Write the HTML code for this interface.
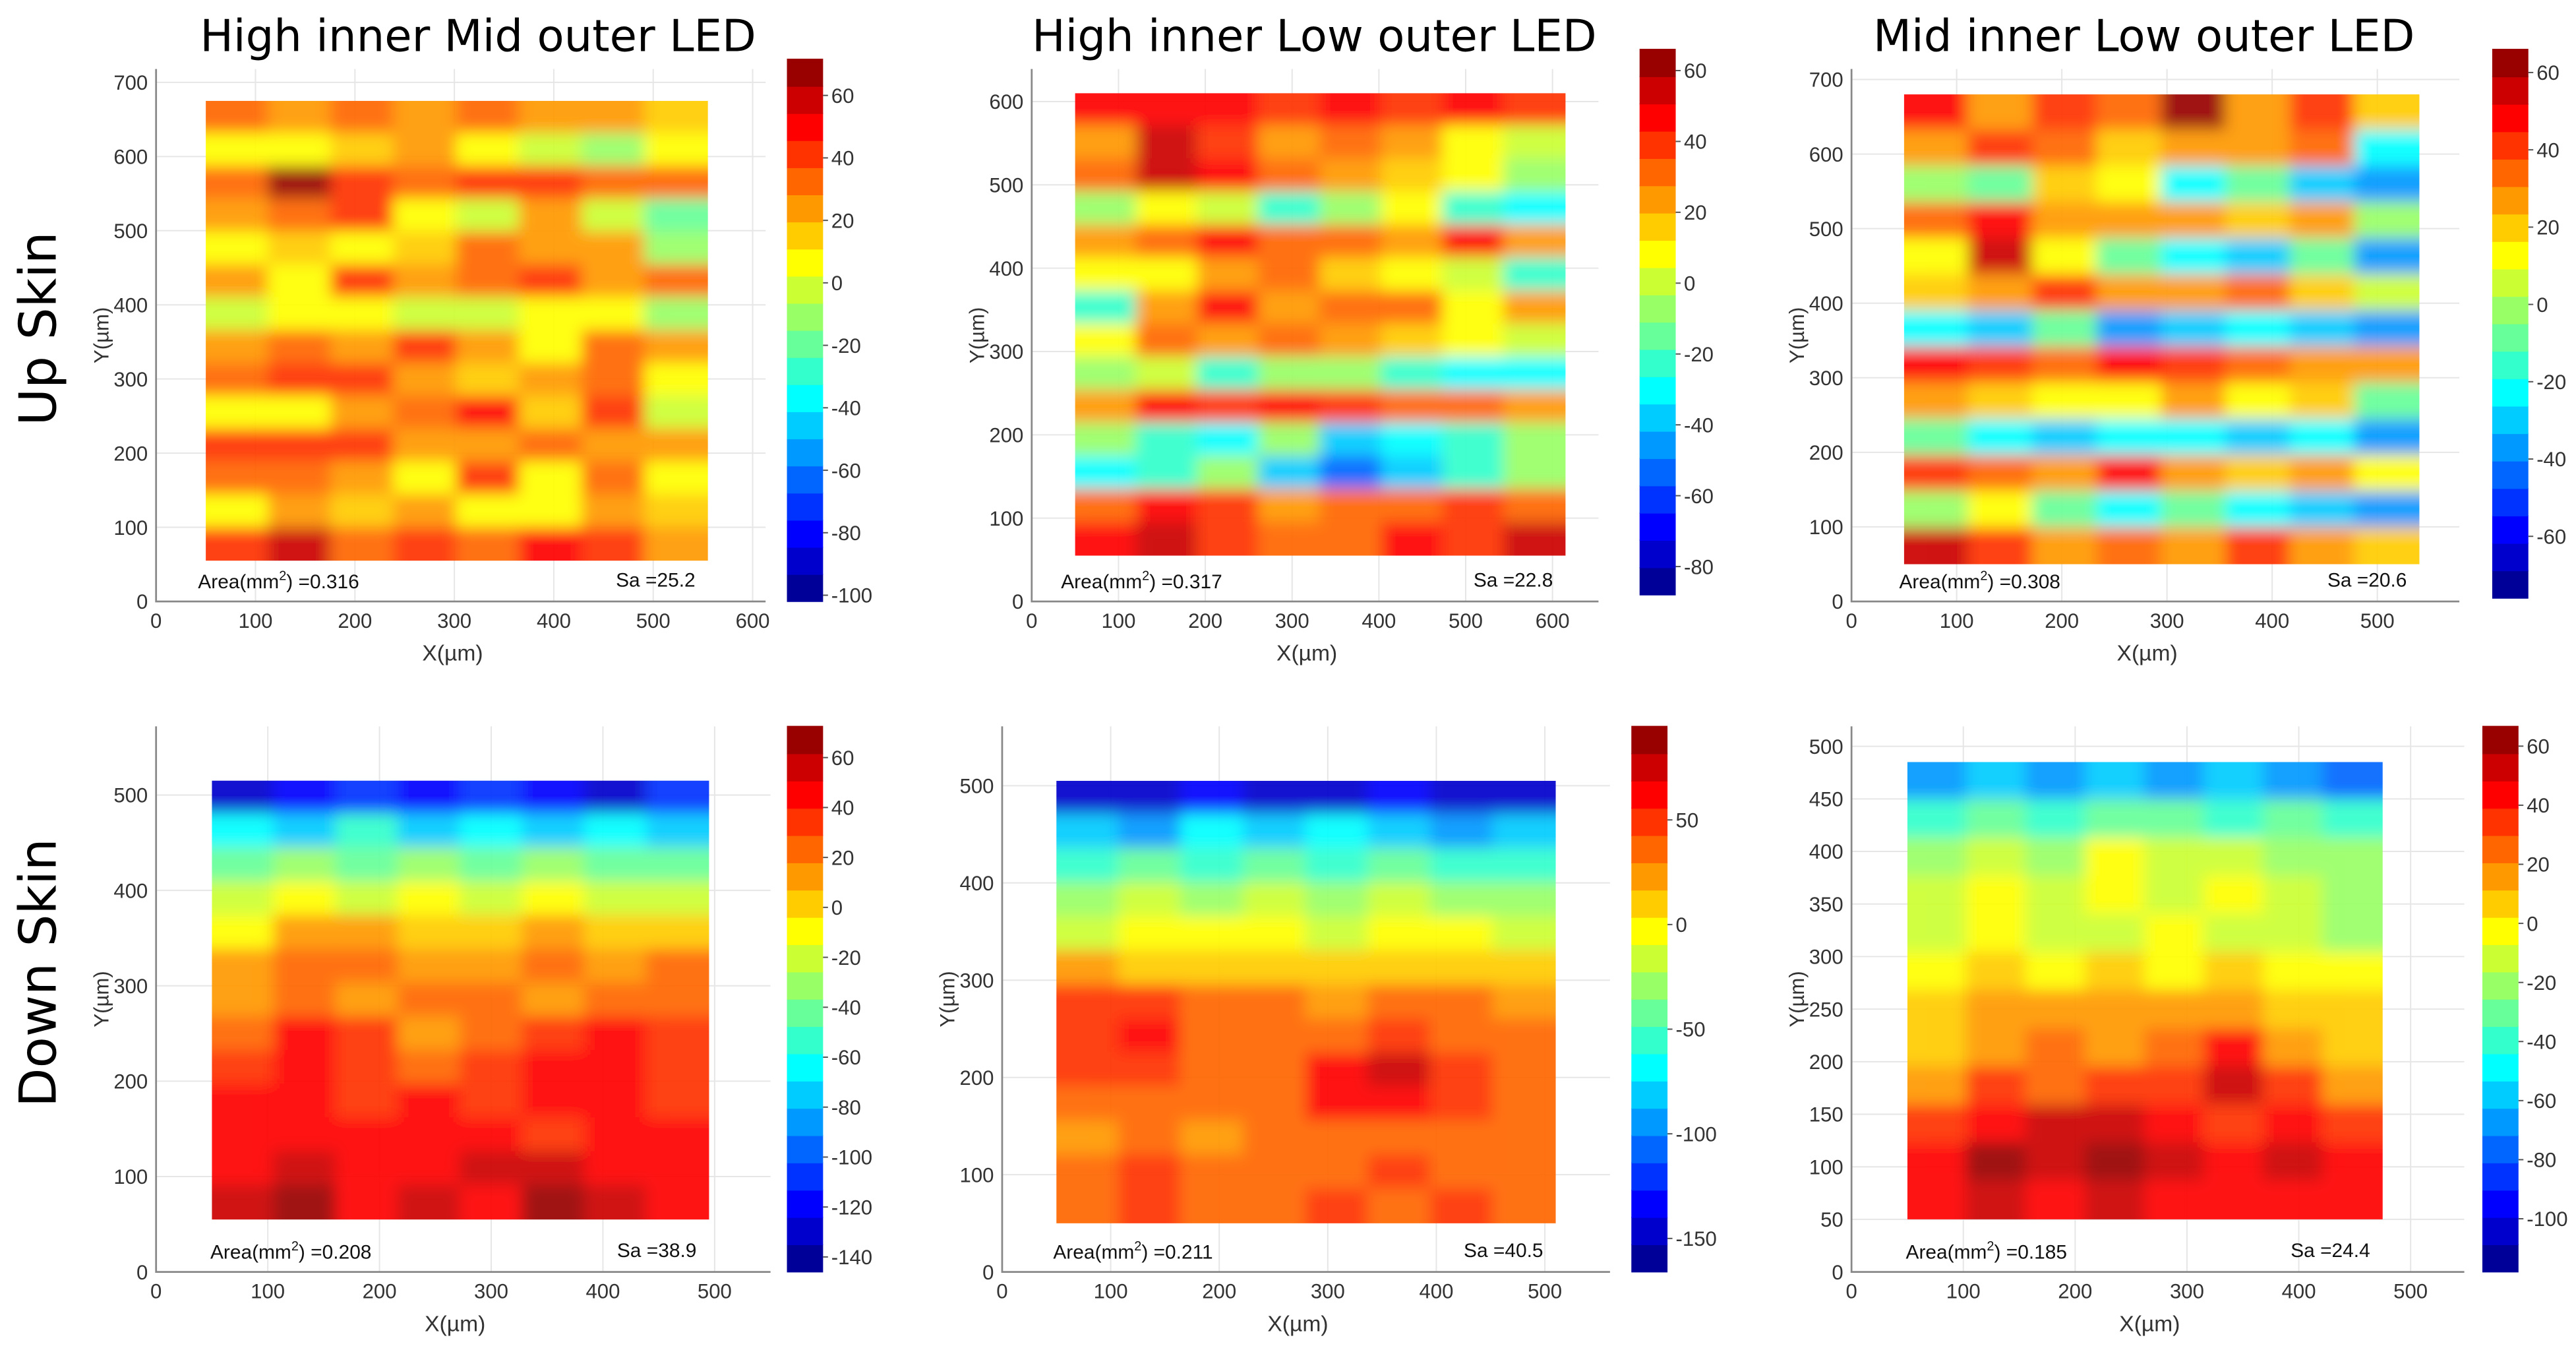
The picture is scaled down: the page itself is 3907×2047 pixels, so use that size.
<!DOCTYPE html>
<html><head><meta charset="utf-8">
<style>
html,body{margin:0;padding:0;background:#fff;}
svg{display:block;}
text{font-family:"Liberation Sans",Arial,sans-serif;}
</style></head>
<body>
<svg id="fig" xmlns="http://www.w3.org/2000/svg" width="3907" height="2047" viewBox="0 0 1568 821.5">
<defs>
<filter id="soft" x="-5%" y="-5%" width="110%" height="110%"><feGaussianBlur stdDeviation="4.5"/></filter>
</defs>
<text x="0" y="0" font-size="31" transform="translate(34,200) rotate(-90)" text-anchor="middle" style="font-family:'DejaVu Sans',sans-serif">Up Skin</text>
<text x="0" y="0" font-size="31" transform="translate(34,592) rotate(-90)" text-anchor="middle" style="font-family:'DejaVu Sans',sans-serif">Down Skin</text>
<text x="291" y="31" font-size="27" text-anchor="middle" style="font-family:'DejaVu Sans',sans-serif">High inner Mid outer LED</text>
<text x="800" y="31" font-size="27" text-anchor="middle" style="font-family:'DejaVu Sans',sans-serif">High inner Low outer LED</text>
<text x="1305" y="31" font-size="27" text-anchor="middle" style="font-family:'DejaVu Sans',sans-serif">Mid inner Low outer LED</text>
</svg>
<script>
// ---- data (values in µm height, rows top->bottom of sample) ----
const p1Values=[
[30,25,30,20,30,25,20,15],[10,5,15,20,10,0,-10,5],[30,65,40,30,45,45,30,35],[20,35,45,10,-5,20,0,-20],
[5,15,10,15,30,20,25,-10],[25,10,45,20,30,40,25,30],[0,10,5,0,-5,10,5,-10],[25,30,20,45,20,5,30,20],
[30,45,45,20,15,25,30,10],[10,10,25,35,50,15,40,0],[40,45,40,25,20,30,20,25],[30,30,20,10,40,10,35,5],
[5,25,15,20,10,5,20,15],[45,55,30,40,30,50,45,25]];
const p2Values=[
[45,50,45,40,45,40,45,40],[25,55,40,20,30,20,10,0],[30,55,50,35,20,15,5,-10],[-10,10,0,-20,-10,5,-20,-30],
[20,35,45,35,30,20,50,25],[5,10,20,30,15,5,0,-20],[-20,20,45,25,30,35,10,20],[10,30,20,35,25,15,5,0],
[-10,0,-20,-10,-5,-20,-30,-30],[25,45,40,45,40,35,30,20],[-5,-20,-30,-10,-40,-30,-20,-10],
[-30,-20,-10,-40,-50,-40,-20,-10],[30,45,40,25,30,35,40,30],[50,55,40,30,35,45,40,55]];
const p3Values=[
[45,30,40,35,60,25,40,20],[30,40,35,20,25,30,35,-20],[0,-10,20,10,-20,-10,-30,-40],[35,50,30,25,30,20,30,0],
[10,55,10,-10,-20,-30,-10,-40],[20,30,40,30,25,35,20,5],[-20,-30,-10,-35,-30,-25,-30,-40],
[45,40,35,45,40,35,30,25],[30,20,10,15,25,10,20,-10],[-10,-20,-30,-20,-25,-30,-20,-40],
[40,35,25,45,30,20,25,15],[0,10,-10,-20,-10,-20,-30,-40],[55,40,30,35,25,40,30,20]];
const p4Values=[
[-130,-120,-110,-120,-110,-120,-130,-110],[-60,-70,-50,-80,-60,-70,-60,-70],[-40,-30,-40,-30,-40,-30,-40,-40],
[-20,-10,-20,-10,-20,-10,-20,-20],[-5,15,10,0,5,10,0,5],[10,25,20,10,15,20,15,20],[15,20,15,20,20,15,20,20],
[20,40,30,15,25,35,45,30],[35,50,30,20,30,40,50,35],[40,45,35,40,35,45,40,30],[45,40,50,45,40,35,45,40],
[50,60,45,50,60,55,50,45],[55,65,50,55,50,65,60,50]];
const p5Values=[
[-150,-140,-130,-150,-140,-130,-140,-150],[-80,-90,-70,-80,-70,-80,-90,-80],[-50,-40,-50,-40,-50,-40,-50,-50],
[-30,-20,-25,-20,-30,-20,-25,-30],[-10,0,-5,0,-10,-5,0,-10],[20,10,15,10,5,15,10,10],[45,50,35,30,25,35,30,25],
[55,60,40,35,40,45,35,40],[45,50,35,40,65,70,45,40],[35,40,30,35,60,65,50,35],[25,30,25,30,40,35,30,30],
[35,45,40,35,40,45,40,35],[40,45,35,40,45,40,45,40]];
const p6Values=[
[-70,-60,-70,-60,-70,-60,-70,-80],[-40,-30,-40,-30,-30,-40,-30,-40],[-20,-10,-20,-5,-15,-10,-20,-25],
[-15,0,-10,-5,-10,-5,-10,-20],[-10,-5,-10,-15,-5,-10,-15,-20],[-5,5,0,5,0,5,0,-5],[5,15,20,20,15,20,10,5],
[10,20,25,20,25,45,20,10],[20,30,25,30,35,50,30,20],[35,45,50,55,45,35,40,35],[45,60,55,60,50,40,55,45],
[40,50,45,50,40,45,45,40]];
const areaLabels=["0.316","0.317","0.308","0.208","0.211","0.185"];
const saLabels=["25.2","22.8","20.6","38.9","40.5","24.4"];
const p1CbTicks=[60,40,20,0,-20,-40,-60,-80,-100];
const p2CbTicks=[60,40,20,0,-20,-40,-60,-80];
const p3CbTicks=[60,40,20,0,-20,-40,-60];
const p4CbTicks=[60,40,20,0,-20,-40,-60,-80,-100,-120,-140];
const p5CbTicks=[50,0,-50,-100,-150];
const p6CbTicks=[60,40,20,0,-20,-40,-60,-80,-100];
const dataExtentX=[[50,555],[50,615],[50,540],[50,495],[50,510],[50,475]];
const dataExtentY=[[55,675],[55,610],[50,680],[55,515],[50,505],[50,485]];
const colorLimits=[[-102,71.6],[-88,66],[-76,66],[-146,72.5],[-166,94.7],[-118,66.7]];

// ---- layout ----
const panels=[
 {vals:p1Values,cb:p1CbTicks,x0:95,x1:466,xmax:613,yb:366,yt:42,ymax:718,ystep:100,cbx:479,cbt:36,cbb:366},
 {vals:p2Values,cb:p2CbTicks,x0:628,x1:973,xmax:653,yb:366,yt:42,ymax:639,ystep:100,cbx:998,cbt:30,cbb:362},
 {vals:p3Values,cb:p3CbTicks,x0:1127,x1:1497,xmax:578,yb:366,yt:42,ymax:714,ystep:100,cbx:1517,cbt:30,cbb:364},
 {vals:p4Values,cb:p4CbTicks,x0:95,x1:469,xmax:550,yb:774,yt:442,ymax:572,ystep:100,cbx:479,cbt:442,cbb:774},
 {vals:p5Values,cb:p5CbTicks,x0:610,x1:980,xmax:560,yb:774,yt:442,ymax:561,ystep:100,cbx:993,cbt:442,cbb:774},
 {vals:p6Values,cb:p6CbTicks,x0:1127,x1:1500,xmax:548,yb:774,yt:442,ymax:519,ystep:50,cbx:1511,cbt:442,cbb:774}
];
const NS="http://www.w3.org/2000/svg";
const svg=document.getElementById('fig');
function mk(tag,attrs,parent){const e=document.createElementNS(NS,tag);for(const k in attrs)e.setAttribute(k,attrs[k]);(parent||svg).appendChild(e);return e;}
function clamp(v){return Math.max(0,Math.min(1,v));}
function jet(t,steps){t=clamp(t);t=(Math.floor(t*steps)+0.5)/steps;
 const r=clamp(1.5-Math.abs(4*t-3)),g=clamp(1.5-Math.abs(4*t-2)),b=clamp(1.5-Math.abs(4*t-1));
 return `rgb(${Math.round(r*255)},${Math.round(g*255)},${Math.round(b*255)})`;}

panels.forEach((p,i)=>{
 const sx=v=>p.x0+(p.x1-p.x0)*v/p.xmax;
 const sy=v=>p.yb-(p.yb-p.yt)*v/p.ymax;
 const [cmin,cmax]=colorLimits[i];
 const g=mk('g',{});
 
 
 for(let xv=0;xv<=p.xmax;xv+=100){const l=mk('line',{x1:sx(xv),x2:sx(xv),y1:p.yt,y2:p.yb,stroke:'#e6e6e6','stroke-width':0.8},g);
  
  const t=mk('text',{x:sx(xv),y:p.yb+16,'font-size':12.5,'text-anchor':'middle',fill:'#333'},g);t.textContent=xv;
  }
 for(let yv=0;yv<=p.ymax;yv+=p.ystep){const l=mk('line',{x1:p.x0,x2:p.x1,y1:sy(yv),y2:sy(yv),stroke:'#e6e6e6','stroke-width':0.8},g);
  
  const t=mk('text',{x:p.x0-5,y:sy(yv)+4.5,'font-size':12.5,'text-anchor':'end',fill:'#333'},g);t.textContent=yv;
  }
 const clipId='clip'+i;
 const cp=mk('clipPath',{id:clipId},g);
 const [dx0,dx1]=dataExtentX[i],[dy0,dy1]=dataExtentY[i];
 mk('rect',{x:sx(dx0),y:sy(dy1),width:sx(dx1)-sx(dx0),height:sy(dy0)-sy(dy1)},cp);
 const hc=mk('g',{'clip-path':`url(#${clipId})`,opacity:0.92},g);
 const hm=mk('g',{filter:'url(#soft)'},hc);
 
 const rows=p.vals.length,cols=p.vals[0].length;
 const cw=(dx1-dx0)/cols,ch=(dy1-dy0)/rows;
 p.vals.forEach((row,r)=>row.forEach((v,c)=>{
  const xa=sx(dx0+c*cw),xb=sx(dx0+(c+1)*cw),ya=sy(dy1-r*ch),yb=sy(dy1-(r+1)*ch);
  const pad=10;
  const x=xa-(c==0?pad:0.5),y=ya-(r==0?pad:0.5);
  const w=xb-xa+(c==0?pad:0.5)+(c==cols-1?pad:0.5),h=yb-ya+(r==0?pad:0.5)+(r==rows-1?pad:0.5);
  const cell=mk('rect',{x:x,y:y,width:w,height:h,fill:jet((v-cmin)/(cmax-cmin),20)},hm);
  
 }));
 const ax=mk('path',{d:`M${p.x0},${p.yt}V${p.yb}H${p.x1}`,fill:'none',stroke:'#888','stroke-width':1.1},g);
 
 const xl=mk('text',{x:(p.x0+p.x1)/2-5,y:p.yb+36,'font-size':13.5,'text-anchor':'middle',fill:'#333'},g);xl.textContent='X(µm)';
 
 const yl=mk('text',{x:0,y:0,'font-size':12.5,'text-anchor':'middle',fill:'#333',transform:`translate(${p.x0-29},${(p.yt+p.yb)/2}) rotate(-90)`},g);yl.textContent='Y(µm)';
 
 const at=mk('text',{x:sx(100)-35,y:p.yb-8,'font-size':12,fill:'#111'},g);
 at.innerHTML='Area(mm<tspan dy="-5" font-size="8">2</tspan><tspan dy="5">) ='+areaLabels[i]+'</tspan>';
 
 const st=mk('text',{x:sx(dx1)-56,y:p.yb-9,'font-size':12,fill:'#111'},g);st.textContent='Sa ='+saLabels[i];
 
 const cbg=mk('g',{},g);
 
 const n=20,h=(p.cbb-p.cbt)/n;
 for(let k=0;k<n;k++){const s=mk('rect',{x:p.cbx,y:p.cbb-(k+1)*h-0.3,width:22,height:h+0.6,fill:jet((k+0.5)/n,n)},cbg);
  }
 const cy=v=>p.cbb-(p.cbb-p.cbt)*(v-cmin)/(cmax-cmin);
 p.cb.forEach(v=>{const t=mk('text',{x:p.cbx+27,y:cy(v)+4.5,'font-size':12.5,fill:'#333'},cbg);t.textContent=v;
  
  const tk=mk('line',{x1:p.cbx+22,x2:p.cbx+25,y1:cy(v),y2:cy(v),stroke:'#555','stroke-width':0.8},cbg);
  });
});
</script>
</body></html>
